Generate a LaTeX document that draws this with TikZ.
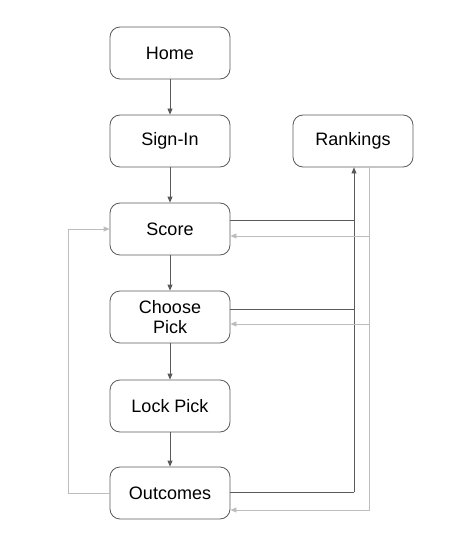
\documentclass[tikz,border=0pt]{standalone}
\usepackage{fontspec}
\setmainfont{Liberation Sans}
\usetikzlibrary{positioning, arrows.meta}
\definecolor{darkline}{HTML}{5A5A5A}
\definecolor{lightline}{HTML}{BDBDBD}
\tikzset{
    page box/.style = {draw=darkline, rounded corners=10pt, minimum width=120pt, minimum height=52pt,
        align=center, font=\fontsize{18}{20}\selectfont, line width=0.8pt},
    dark edge/.style = {draw=darkline, line width=0.8pt, -{Triangle[width=5pt, length=6pt]}},
    light edge/.style = {draw=lightline, line width=0.8pt, -{Triangle[width=5pt, length=6pt]}},
}

\begin{document}
\begin{tikzpicture}[x=1pt, y=-1pt]
            \useasboundingbox (0, 0) rectangle (450, 540);

            \node[page box] (home) at (170, 53) {Home};
            \node[page box] (signin) at (170, 141) {Sign-In};
            \node[page box] (score) at (170, 229) {Score};
            \node[page box] (choose) at (170, 317) {Choose\\Pick};
            \node[page box] (lock) at (170, 406) {Lock Pick};
            \node[page box] (outc) at (170, 493) {Outcomes};

            \node[page box] (rank) at (353, 141) {Rankings};

            \coordinate (js) at (354, 220);
            \coordinate (jc) at (354, 309);
            \coordinate (jo) at (354, 492);
            \coordinate (gs) at (369, 236);
            \coordinate (gc) at (369, 324);
            \coordinate (go) at (369, 510);
            \coordinate (lb) at (68, 493);
            \coordinate (lt) at (68, 229);

            \draw[dark edge] (home) -- (signin);
            \draw[dark edge] (signin) -- (score);
            \draw[dark edge] (score) -- (choose);
            \draw[dark edge] (choose) -- (lock);
            \draw[dark edge] (lock) -- (outc);

            \draw[dark edge, -] (score.east |- js) -- (js);
            \draw[dark edge, -] (choose.east |- jc) -- (jc);
            \draw[dark edge, -] (outc.east |- jo) -- (jo);
            \draw[dark edge] (jo) -- (jo |- rank.south);

            \draw[light edge] (rank.south -| go) -- (go) -- (go -| outc.east);
            \draw[light edge] (gs) -- (gs -| score.east);
            \draw[light edge] (gc) -- (gc -| choose.east);
            \draw[light edge] (outc.west) -- (lb) -- (lt) -- (score.west);
        \end{tikzpicture}
\end{document}
